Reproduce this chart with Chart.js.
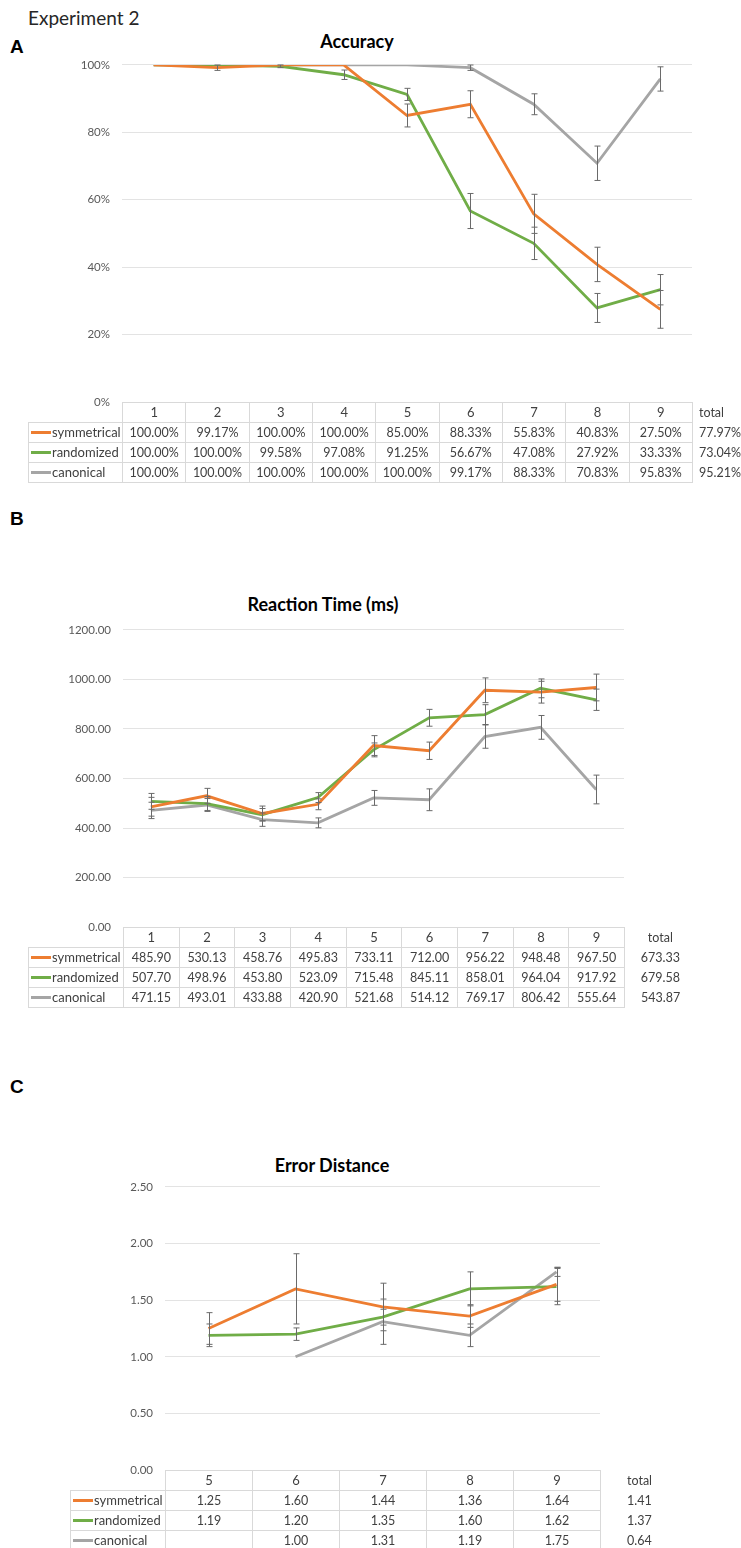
<!DOCTYPE html>
<html><head><meta charset="utf-8">
<script src="https://cdn.jsdelivr.net/npm/chart.js@4.4.1/dist/chart.umd.min.js"></script>
<style>
body{margin:0;background:#fff;width:741px;height:1548px;position:relative;overflow:hidden;font-family:Lato,'Liberation Sans',Arial,sans-serif;color:#404040}
.abs{position:absolute;white-space:nowrap;line-height:1}
.letter{font-size:19px;font-weight:bold;color:#000;font-family:'Liberation Sans',Arial,sans-serif}
.title{font-size:18px;font-weight:bold;color:#000;transform:translate(-50%,-50%)}
canvas{position:absolute}
table{position:absolute;border-collapse:collapse;table-layout:fixed;font-size:12.5px;color:#404040}
td{border:1px solid #d9d9d9;height:19px;padding:0;text-align:center;white-space:nowrap;overflow:visible;line-height:19px}
td.nb{border:none}
td.lab{text-align:left;padding-left:2px;font-size:13px}
.mk{display:inline-block;width:20px;height:3px;vertical-align:middle;margin-right:1px;position:relative;top:-1px}
</style>
</head><body>
<div class="abs" style="left:28px;top:8px;font-size:19px;color:#262626">Experiment 2</div>
<div class="abs letter" style="left:10px;top:37px">A</div>
<div class="abs title" style="left:357px;top:41px">Accuracy</div>
<div class="abs letter" style="left:10px;top:509px">B</div>
<div class="abs title" style="left:323px;top:604px">Reaction Time (ms)</div>
<div class="abs letter" style="left:10px;top:1077px">C</div>
<div class="abs title" style="left:332px;top:1165px">Error Distance</div>
<script>
// ---------- data ----------
const seriesNames = ['symmetrical', 'randomized', 'canonical'];
const seriesColors = ['#ED7D31', '#70AD47', '#A5A5A5'];

// Panel A: Accuracy (%)
const accCats = ['1','2','3','4','5','6','7','8','9'];
const accSym  = [100.00, 99.17, 100.00, 100.00, 85.00, 88.33, 55.83, 40.83, 27.50];
const accRand = [100.00, 100.00, 99.58, 97.08, 91.25, 56.67, 47.08, 27.92, 33.33];
const accCan  = [100.00, 100.00, 100.00, 100.00, 100.00, 99.17, 88.33, 70.83, 95.83];
const accSymErr  = [0, 0.8, 0, 0, 3.4, 4.0, 5.8, 5.1, 5.6];
const accRandErr = [0, 0, 0.4, 1.4, 1.8, 5.2, 4.8, 4.3, 4.5];
const accCanErr  = [0, 0, 0, 0, 0, 0.8, 3.1, 5.1, 3.6];
const accTotals  = [77.97, 73.04, 95.21];
const accTicks = [0, 20, 40, 60, 80, 100];

// Panel B: Reaction Time (ms)
const rtCats = ['1','2','3','4','5','6','7','8','9'];
const rtSym  = [485.90, 530.13, 458.76, 495.83, 733.11, 712.00, 956.22, 948.48, 967.50];
const rtRand = [507.70, 498.96, 453.80, 523.09, 715.48, 845.11, 858.01, 964.04, 917.92];
const rtCan  = [471.15, 493.01, 433.88, 420.90, 521.68, 514.12, 769.17, 806.42, 555.64];
const rtSymErr  = [38, 30, 30, 22, 40, 35, 50, 44, 54];
const rtRandErr = [32, 28, 25, 20, 28, 34, 40, 38, 43];
const rtCanErr  = [33, 26, 27, 20, 30, 44, 47, 48, 58];
const rtTotals  = [673.33, 679.58, 543.87];
const rtTicks = [0, 200, 400, 600, 800, 1000, 1200];

// Panel C: Error Distance
const edCats = ['5','6','7','8','9'];
const edSym  = [1.25, 1.60, 1.44, 1.36, 1.64];
const edRand = [1.19, 1.20, 1.35, 1.60, 1.62];
const edCan  = [null, 1.00, 1.31, 1.19, 1.75];
const edSymErr  = [0.14, 0.31, 0.21, 0.10, 0.15];
const edRandErr = [0.10, 0.055, 0.07, 0.15, 0.16];
const edCanErr  = [0, 0, 0.20, 0.10, 0.04];
const edTotals  = [1.41, 1.37, 0.64];
const edTicks = [0, 0.5, 1.0, 1.5, 2.0, 2.5];

// ---------- error bar plugin ----------
const errPlugin = {
  id: 'errbars',
  afterDatasetsDraw(chart) {
    const ctx = chart.ctx, xs = chart.scales.x, ys = chart.scales.y;
    ctx.save();
    ctx.strokeStyle = '#6a6a6a';
    ctx.lineWidth = 1;
    chart.data.datasets.forEach(ds => {
      ds.data.forEach((v, j) => {
        const e = ds.errs[j];
        if (v == null || !e) return;
        const px = Math.round(xs.getPixelForValue(j)) + 0.5;
        const t = ys.getPixelForValue(v + e), b = ys.getPixelForValue(v - e);
        ctx.beginPath();
        ctx.moveTo(px, t); ctx.lineTo(px, b);
        ctx.moveTo(px - 3, t); ctx.lineTo(px + 3, t);
        ctx.moveTo(px - 3, b); ctx.lineTo(px + 3, b);
        ctx.stroke();
      });
    });
    ctx.restore();
  }
};

function buildChart(cv, o) {
  return new Chart(cv, {
    type: 'line',
    data: {
      labels: o.cats,
      datasets: o.series.map((s, i) => ({
        label: seriesNames[i], data: s, errs: o.errs[i],
        borderColor: seriesColors[i], backgroundColor: seriesColors[i],
        borderWidth: 2.8, pointRadius: 0, tension: 0, spanGaps: false, fill: false
      }))
    },
    options: {
      responsive: false, animation: false, devicePixelRatio: 1,
      layout: { padding: { left: 0, right: 741 - o.right, top: 0, bottom: 0 } },
      plugins: { legend: { display: false }, tooltip: { enabled: false }, title: { display: false } },
      scales: {
        x: { display: false, offset: true },
        y: {
          min: o.ticks[0], max: o.ticks[o.ticks.length - 1],
          afterFit(s) { s.width = o.left; },
          afterBuildTicks(s) { s.ticks = o.ticks.map(v => ({ value: v })); },
          ticks: { callback: o.fmt, color: '#595959', padding: o.left - o.labelRight, font: { family: 'Lato', size: 11.5 } },
          grid: { color: '#e3e3e3', drawTicks: false, lineWidth: 1 },
          border: { display: false }
        }
      }
    },
    plugins: [errPlugin]
  });
}

function sizeCanvas(cv, top, h) {
  cv.width = 741; cv.height = h;
  cv.style.left = '0px'; cv.style.top = top + 'px';
  cv.style.width = '741px'; cv.style.height = h + 'px';
}

function makePanel(o) {
  const cv = document.createElement('canvas');
  let top0 = o.areaTop - 20, h = o.areaBottom - o.areaTop + 40;
  sizeCanvas(cv, top0, h);
  document.body.appendChild(cv);
  let chart = buildChart(cv, o);
  // place the canvas so the plot area lands where the reference has it
  for (let k = 0; k < 3; k++) {
    const ca = chart.chartArea;
    const wantTop = o.areaTop - top0, wantH = o.areaBottom - o.areaTop;
    if (Math.abs(ca.top - wantTop) < 0.6 && Math.abs((ca.bottom - ca.top) - wantH) < 0.6) break;
    top0 = Math.round(o.areaTop - ca.top);
    h = Math.round(h - (ca.bottom - ca.top) + wantH);
    chart.destroy();
    sizeCanvas(cv, top0, h);
    chart = buildChart(cv, o);
  }
  makeTable(chart, o, top0);
  return chart;
}

function makeTable(chart, o, top0) {
  const ca = chart.chartArea;
  const n = o.cats.length;
  const cw = (ca.right - ca.left) / n;
  const labW = ca.left - o.tabLeft;
  const t = document.createElement('table');
  t.style.left = o.tabLeft + 'px';
  t.style.top = (top0 + ca.bottom - 0.5) + 'px';
  t.style.width = (labW + cw * n + o.totW) + 'px';
  let html = '<colgroup><col style="width:' + labW + 'px">';
  for (let i = 0; i < n; i++) html += '<col style="width:' + cw + 'px">';
  html += '<col style="width:' + o.totW + 'px"></colgroup>';
  const totStyle = 'text-align:' + o.totAlign + ';padding-left:' + o.totPad + 'px';
  html += '<tr><td class="nb"></td>' + o.cats.map(c => '<td style="font-size:13px">' + c + '</td>').join('') +
          '<td class="nb" style="' + totStyle + '">total</td></tr>';
  o.series.forEach((s, i) => {
    html += '<tr><td class="lab"><span class="mk" style="background:' + seriesColors[i] + '"></span>' + seriesNames[i] + '</td>' +
      s.map(v => '<td>' + (v == null ? '' : o.cellFmt(v)) + '</td>').join('') +
      '<td class="nb" style="' + totStyle + '">' + o.cellFmt(o.totals[i]) + '</td></tr>';
  });
  t.innerHTML = html;
  document.body.appendChild(t);
}

makePanel({
  cats: accCats, series: [accSym, accRand, accCan], errs: [accSymErr, accRandErr, accCanErr], totals: accTotals,
  ticks: accTicks, fmt: v => v + '%', cellFmt: v => v.toFixed(2) + '%',
  areaTop: 65, areaBottom: 402, left: 122, right: 692, labelRight: 110,
  tabLeft: 28, totW: 49, totAlign: 'left', totPad: 6
});
makePanel({
  cats: rtCats, series: [rtSym, rtRand, rtCan], errs: [rtSymErr, rtRandErr, rtCanErr], totals: rtTotals,
  ticks: rtTicks, fmt: v => v.toFixed(2), cellFmt: v => v.toFixed(2),
  areaTop: 630, areaBottom: 927, left: 123, right: 624, labelRight: 111,
  tabLeft: 28, totW: 72, totAlign: 'center', totPad: 0
});
makePanel({
  cats: edCats, series: [edSym, edRand, edCan], errs: [edSymErr, edRandErr, edCanErr], totals: edTotals,
  ticks: edTicks, fmt: v => v.toFixed(2), cellFmt: v => v.toFixed(2),
  areaTop: 1187, areaBottom: 1470, left: 165, right: 600, labelRight: 153,
  tabLeft: 70, totW: 70, totAlign: 'left', totPad: 26
});
</script>
</body></html>
